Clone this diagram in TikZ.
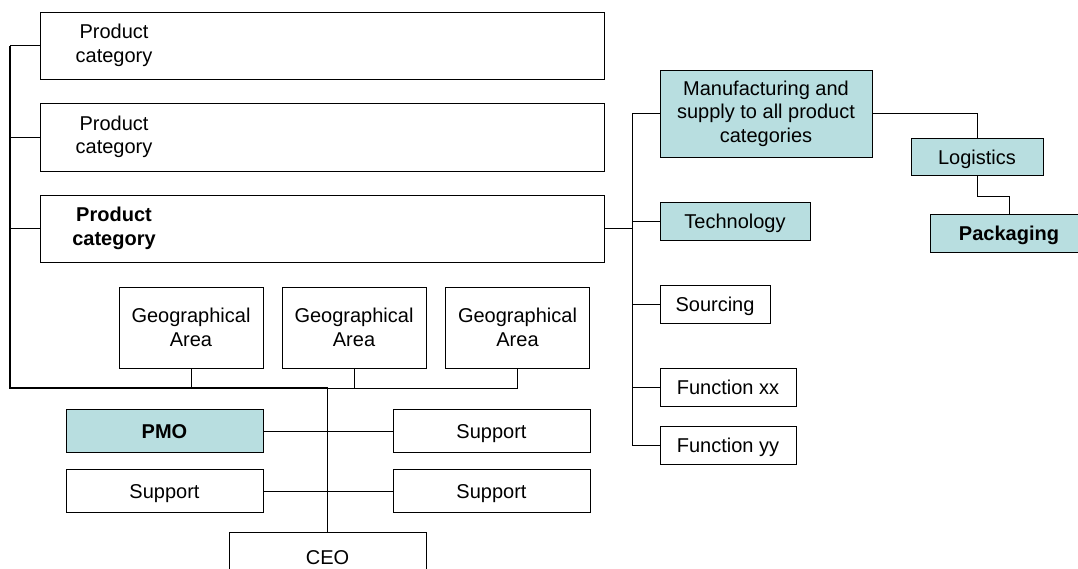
\documentclass[tikz,border=0pt]{standalone}
\usepackage{fontspec}
\setmainfont{Liberation Sans}
\definecolor{teal}{RGB}{184,222,224}
\begin{document}
\begin{tikzpicture}[x=1pt,y=-1pt,
  box/.style={draw=black,line width=0.9pt,rectangle,inner sep=0pt,align=center,
    font=\fontsize{20}{23.5}\selectfont},
  one/.style={text height=14.3pt,text depth=0pt,yshift=-0.5pt},
  hi/.style={box,fill=teal},
  txt/.style={inner sep=0pt,align=center,font=\fontsize{20}{23.5}\selectfont},
  thin/.style={line width=0.9pt},
  thick/.style={line width=1.6pt}]
\useasboundingbox (0,0) rectangle (1078,568);
\clip (0,0) rectangle (1078,568);
% product categories
\node[box,minimum width=564,minimum height=67] (pc1) at (322,45.5) {};
\node[box,minimum width=564,minimum height=68] (pc2) at (322,137) {};
\node[box,minimum width=564,minimum height=67] (pc3) at (322,228.5) {};
\node[txt] (t1) at (114,45.5) {Product\\category};
\node[txt] (t2) at (114,137) {Product\\category};
\node[txt,font=\fontsize{20}{23.5}\selectfont\bfseries] (t3) at (114,228.5) {Product\\category};
% geographical areas
\node[box,minimum width=144,minimum height=81] (g1) at (191,327.5) {Geographical\\Area};
\node[box,minimum width=144,minimum height=81] (g2) at (354,327.5) {Geographical\\Area};
\node[box,minimum width=144,minimum height=81] (g3) at (517.5,327.5) {Geographical\\Area};
% PMO / support / CEO
\node[hi,one,minimum width=197,minimum height=43,font=\fontsize{20}{23.5}\selectfont\bfseries] (pmo) at (164.5,430.5) {PMO};
\node[box,one,minimum width=197,minimum height=43] (s1) at (491.5,430.5) {Support};
\node[box,one,minimum width=197,minimum height=43] (s2) at (164.5,490.5) {Support};
\node[box,one,minimum width=197,minimum height=43] (s3) at (491.5,490.5) {Support};
\node[box,one,minimum width=197,minimum height=50] (ceo) at (327.5,557) {CEO};
% right side
\node[hi,minimum width=212,minimum height=87] (mfg) at (766,113.5) {Manufacturing and\\supply to all product\\categories};
\node[hi,one,minimum width=150,minimum height=38] (tech) at (735,221) {Technology};
\node[box,one,minimum width=110,minimum height=38] (src) at (715,304) {Sourcing};
\node[box,one,minimum width=136,minimum height=38] (fxx) at (728,387) {Function xx};
\node[box,one,minimum width=136,minimum height=38] (fyy) at (728,445) {Function yy};
\node[hi,one,minimum width=132,minimum height=37] (log) at (977,156.5) {Logistics};
\node[hi,one,minimum width=158,minimum height=38,font=\fontsize{20}{23.5}\selectfont\bfseries] (pack) at (1009,233) {Packaging};
% coordinates
\coordinate (bl) at (10,388);
\coordinate (rb) at (632,228.5);
% left bus
\draw[thick] (10,45.5) -- (bl) -- (ceo.north |- bl) -- (ceo.north);
\draw[thin] (pc1.west) -- (pc1.west -| bl);
\draw[thin] (pc2.west) -- (pc2.west -| bl);
\draw[thin] (pc3.west) -- (pc3.west -| bl);
\draw[thin] (g1.south) -- (g1.south |- bl);
\draw[thin] (g2.south) -- (g2.south |- bl);
\draw[thin] (g3.south) -- (g3.south |- bl) -- (ceo.north |- bl);
\draw[thin] (pmo.east) -- (s1.west);
\draw[thin] (s2.east) -- (s3.west);
% right bus
\draw[thick] (pc3.east) -- (rb);
\draw[thin] (mfg.west -| rb) -- (fyy.west -| rb);
\draw[thin] (mfg.west) -- (mfg.west -| rb);
\draw[thin] (tech.west) -- (tech.west -| rb);
\draw[thin] (src.west) -- (src.west -| rb);
\draw[thin] (fxx.west) -- (fxx.west -| rb);
\draw[thin] (fyy.west) -- (fyy.west -| rb);
\draw[thin] (mfg.east) -| (log.north);
\draw[thin] (log.south) -- ++(0,20) -| (pack.north);
\end{tikzpicture}
\end{document}
